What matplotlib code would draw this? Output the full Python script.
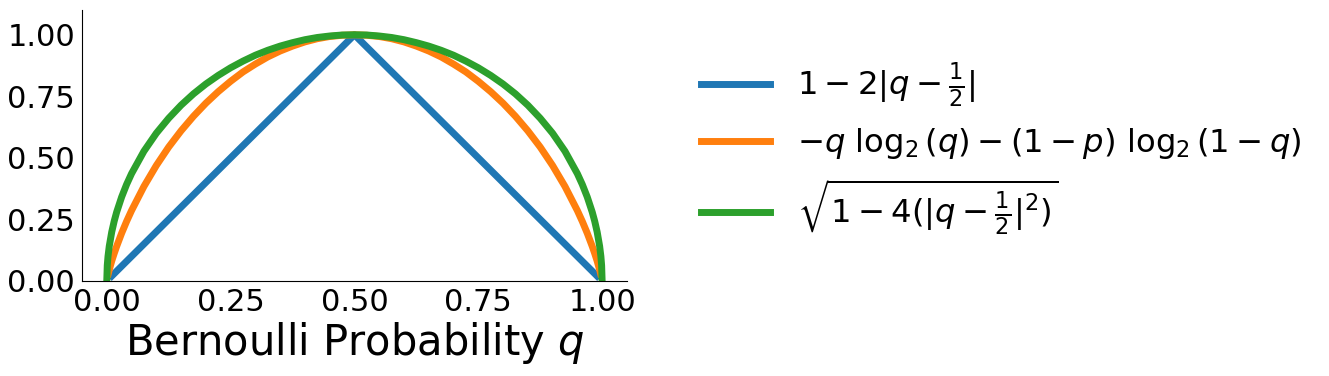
import numpy as np
import matplotlib
matplotlib.use("Agg")
import matplotlib.pyplot as plt

# values
q_lin = [0.01, 0.5, 0.99]
linear = [0.02, 1.0, 0.02]

q_ent = [0.003, 0.005, 0.01, 0.015, 0.02, 0.03, 0.04, 0.05, 0.075, 0.1, 0.125, 0.15, 0.175, 0.2,
         0.225, 0.25, 0.275, 0.3, 0.325, 0.35, 0.375, 0.4, 0.425, 0.45, 0.475, 0.5,
         0.525, 0.55, 0.575, 0.6, 0.625, 0.65, 0.675, 0.7, 0.725, 0.75, 0.775,
         0.8, 0.825, 0.85, 0.875, 0.9, 0.925, 0.95, 0.96, 0.97, 0.98, 0.985, 0.99, 0.995, 0.997]
entropy = [0.029, 0.045, 0.081, 0.112, 0.141, 0.194, 0.242, 0.286, 0.384, 0.469, 0.544, 0.610, 0.669, 0.722,
           0.769, 0.811, 0.849, 0.881, 0.910, 0.934, 0.954, 0.971, 0.984, 0.993, 0.998, 1.0,
           0.998, 0.993, 0.984, 0.971, 0.954, 0.934, 0.910, 0.881, 0.849, 0.811, 0.769,
           0.722, 0.669, 0.610, 0.544, 0.469, 0.384, 0.286, 0.242, 0.194, 0.141, 0.112, 0.081, 0.045, 0.029]

q_circ = [0.0, 0.001, 0.0025, 0.005, 0.01, 0.015, 0.02, 0.03, 0.04, 0.05, 0.075, 0.1, 0.125, 0.15, 0.175, 0.2,
          0.225, 0.25, 0.275, 0.3, 0.325, 0.35, 0.375, 0.4, 0.425, 0.45, 0.475, 0.5,
          0.525, 0.55, 0.575, 0.6, 0.625, 0.65, 0.675, 0.7, 0.725, 0.75, 0.775,
          0.8, 0.825, 0.85, 0.875, 0.9, 0.925, 0.95, 0.96, 0.97, 0.98, 0.985, 0.99, 0.995, 0.9975, 0.999, 1.0]
circle = [0.0, 0.063, 0.100, 0.141, 0.199, 0.243, 0.280, 0.341, 0.392, 0.436, 0.527, 0.600, 0.661, 0.714, 0.760, 0.800,
          0.835, 0.866, 0.893, 0.917, 0.937, 0.954, 0.968, 0.980, 0.989, 0.995, 0.999, 1.0,
          0.999, 0.995, 0.989, 0.980, 0.968, 0.954, 0.937, 0.917, 0.893, 0.866, 0.835,
          0.800, 0.760, 0.714, 0.661, 0.600, 0.527, 0.436, 0.392, 0.341, 0.280, 0.243, 0.199, 0.141, 0.100, 0.063, 0.0]

labels = [r'$1 - 2|q - \frac{1}{2}|$',
          r'$-q\ \log_2(q) - (1-p)\ \log_2(1-q)$',
          r'$\sqrt{1 - 4(|q - \frac{1}{2}|^2)}$']

fig = plt.figure(figsize=(13.29, 3.76), dpi=100)
ax = fig.add_axes([0.0617, 0.2527, 0.41, 0.7203])

ax.plot(q_lin, linear, color='#1f77b4', lw=5, label=labels[0])
ax.plot(q_ent, entropy, color='#ff7f0e', lw=5, label=labels[1])
ax.plot(q_circ, circle, color='#2ca02c', lw=5, label=labels[2])

ax.set_ylim(0, 1.1)
ax.set_xticks([0, 0.25, 0.5, 0.75, 1.0])
ax.set_yticks([0, 0.25, 0.5, 0.75, 1.0])
ax.xaxis.set_major_formatter(matplotlib.ticker.FormatStrFormatter('%.2f'))
ax.yaxis.set_major_formatter(matplotlib.ticker.FormatStrFormatter('%.2f'))
ax.tick_params(length=0, labelsize=22, pad=5)
ax.spines['top'].set_visible(False)
ax.spines['right'].set_visible(False)
ax.set_xlabel(r'Bernoulli Probability $q$', fontsize=30, labelpad=2)

fig.legend(loc='center left', bbox_to_anchor=(0.5056, 0.602), frameon=False,
           fontsize=23.2, handlelength=2.15, handletextpad=0.83, labelspacing=0.5)

fig.savefig('out.png', dpi=100)
